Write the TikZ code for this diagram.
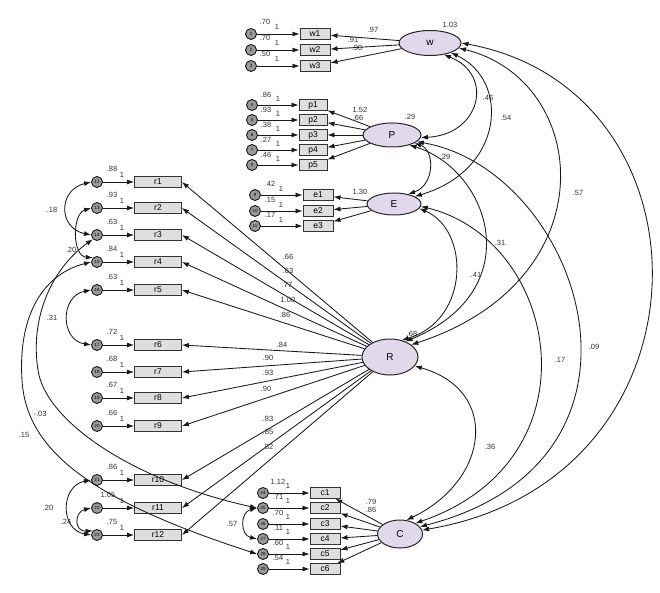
\documentclass[tikz,border=0pt]{standalone}
\usepackage{fontspec}
\setmainfont{Liberation Sans}
\usetikzlibrary{shapes.geometric,arrows.meta}
\definecolor{lav}{HTML}{E2D8EC}
\begin{document}
\begin{tikzpicture}[x=1pt,y=-1pt,
  lat/.style={ellipse, draw=black!85, fill=lav, line width=1pt, inner sep=0, font=\fontsize{10}{10}\selectfont},
  obs/.style={rectangle, draw=black!80, fill=black!13, line width=0.9pt, inner sep=0, minimum height=10.5pt, font=\fontsize{8.5}{8.5}\selectfont},
  err/.style={circle, draw=black!90, fill=black!40, line width=0.9pt, inner sep=0, minimum size=11pt, font=\fontsize{4.5}{4.5}\selectfont},
  lbl/.style={inner sep=0, text=black!80, font=\fontsize{7.5}{7.5}\selectfont},
  amos/.tip={Latex[length=7pt,width=5pt]},
  ld/.style={-amos, line width=0.85pt, black!90},
  cv/.style={amos-amos, line width=0.85pt, black!90},
]
\useasboundingbox[fill=white] (0,0) rectangle (660,593);

% latent factors
\node[lat, minimum width=62pt, minimum height=25pt] (W) at (430,43) {w};
\node[lat, minimum width=58pt, minimum height=24pt] (P) at (392,135) {P};
\node[lat, minimum width=54pt, minimum height=22pt] (E) at (394,204) {E};
\node[lat, minimum width=56pt, minimum height=36pt] (R) at (390,357) {R};
\node[lat, minimum width=45pt, minimum height=28pt] (C) at (400,534) {C};

% w indicators
\foreach \n/\y/\v [count=\k] in {w1/34/.70, w2/50/.70, w3/66/.50} {
  \node[obs, minimum width=30pt] (\n) at (315,\y) {\n};
  \node[err] (e\n) at (251,\y) {\k};
  \draw[ld] (e\n) -- (\n);
  \draw[ld] (W) -- (\n);
  \node[lbl] at (265,\y-12) {\v};
  \node[lbl] at (277,\y-7) {1};
}
% p indicators
\foreach \n/\y/\v [count=\k from 4] in {p1/105/.86, p2/120/.93, p3/135/.38, p4/150/.27, p5/165/.46} {
  \node[obs, minimum width=28pt] (\n) at (313,\y) {\n};
  \node[err] (e\n) at (252,\y) {\k};
  \draw[ld] (e\n) -- (\n);
  \draw[ld] (P) -- (\n);
  \node[lbl] at (266,\y-10) {\v};
  \node[lbl] at (278,\y-6) {1};
}
% e indicators
\foreach \n/\y/\v [count=\k from 9] in {e1/195/.42, e2/211/.15, e3/226/.17} {
  \node[obs, minimum width=30pt] (\n) at (318,\y) {\n};
  \node[err] (e\n) at (255,\y) {\k};
  \draw[ld] (e\n) -- (\n);
  \draw[ld] (E) -- (\n);
  \node[lbl] at (270,\y-11) {\v};
  \node[lbl] at (281,\y-6) {1};
}
% r indicators
\foreach \i/\y/\v/\vx in {1/182/.88/112, 2/208/.93/112, 3/235/.63/112, 4/262/.84/112, 5/290/.63/112, 6/345/.72/112,
                      7/372/.68/112, 8/398/.67/112, 9/426/.66/112, 10/480/.86/112, 11/508/1.05/108, 12/535/.75/112} {
  \node[obs, minimum width=47pt] (r\i) at (158,\y) {r\i};
  \pgfmathtruncatemacro{\k}{\i+11}
  \node[err] (er\i) at (97,\y) {\k};
  \draw[ld] (er\i) -- (r\i);
  \node[lbl] at (\vx,\y-13) {\v};
  \node[lbl] at (122,\y-7) {1};
}
% c indicators
\foreach \n/\y/\v [count=\k from 24] in {c1/493/1.12, c2/508/.71, c3/524/.70, c4/539/.11, c5/554/.60, c6/569/.54} {
  \node[obs, minimum width=30pt] (\n) at (325,\y) {\n};
  \node[err] (e\n) at (263,\y) {\k};
  \draw[ld] (e\n) -- (\n);
  \draw[ld] (C) -- (\n);
  \node[lbl] at (278,\y-11) {\v};
  \node[lbl] at (288,\y-7) {1};
}

% loadings of R
\foreach \i/\l/\lx/\ly in {1/.66/288/257, 2/.63/288/271, 3/.77/287/285, 4/1.00/288/300,
    5/.86/285/315, 6/.84/282/345, 7/.90/268/358, 8/.93/268/373, 9/.90/266/389,
    10/.83/268/419, 11/.85/268/432, 12/.82/268/447} {
  \draw[ld] (R) -- (r\i.east);
  \node[lbl] at (\lx,\ly) {\l};
}

% other loadings and variances
\node[lbl] at (373,30) {.97};
\node[lbl] at (353,40) {.91};
\node[lbl] at (357,48) {.90};
\node[lbl] at (360,110) {1.52};
\node[lbl] at (358,118) {.66};
\node[lbl] at (360,192) {1.30};
\node[lbl] at (371,502) {.79};
\node[lbl] at (371,510) {.86};
\node[lbl] at (450,25) {1.03};
\node[lbl] at (410,117) {.29};
\node[lbl] at (412,334) {.68};

% factor covariances
\draw[cv] (W.-40) .. controls (495,75) and (480,135) .. (P.-5);
\node[lbl] at (488,98) {.46};
\draw[cv] (W.-25) .. controls (510,80) and (505,170) .. (E.20);
\node[lbl] at (506,118) {.54};
\draw[cv] (W.-10) .. controls (590,80) and (610,280) .. (R.30);
\node[lbl] at (578,193) {.57};
\draw[cv] (W.0) .. controls (720,90) and (720,480) .. (C.10);
\draw[cv] (P.-20) .. controls (435,150) and (435,185) .. (E.35);
\node[lbl] at (445,157) {.29};
\draw[cv] (P.-30) .. controls (490,170) and (530,290) .. (R.45);
\node[lbl] at (500,243) {.31};
\draw[cv] (P.-15) .. controls (580,170) and (680,460) .. (C.20);
\node[lbl] at (594,347) {.09};
\draw[cv] (E.-10) .. controls (470,230) and (470,320) .. (R.55);
\node[lbl] at (476,275) {.41};
\draw[cv] (E.-5) .. controls (560,240) and (600,460) .. (C.35);
\node[lbl] at (560,360) {.17};
\draw[cv] (R.-20) .. controls (500,390) and (490,480) .. (C.65);
\node[lbl] at (490,447) {.36};

% error covariances
\draw[cv] (er1.west) .. controls (58,190) and (58,228) .. (er3.west);
\node[lbl] at (52,210) {.18};
\draw[cv] (er2.west) .. controls (72,214) and (72,256) .. (er4.north west);
\node[lbl] at (71,250) {.20};
\draw[cv] (er5.west) .. controls (60,296) and (60,340) .. (er6.west);
\node[lbl] at (52,318) {.31};
\draw[cv] (er3.south west) .. controls (50,270) and (30,320) .. (38,370)
          .. controls (45,420) and (130,480) .. (ec2.west);
\node[lbl] at (40,414) {-.03};
\draw[cv] (er4.west) .. controls (40,275) and (18,320) .. (22,380)
          .. controls (26,450) and (90,500) .. (ec5.west);
\node[lbl] at (24,435) {.15};
\draw[cv] (er10.west) .. controls (60,486) and (60,530) .. (er12.west);
\node[lbl] at (48,508) {.20};
\draw[cv] (er11.west) .. controls (74,512) and (74,532) .. (er12.north west);
\node[lbl] at (66,522) {.24};
\draw[cv] (ec2.west) .. controls (240,512) and (240,535) .. (ec4.west);
\node[lbl] at (232,524) {.57};
\end{tikzpicture}
\end{document}
